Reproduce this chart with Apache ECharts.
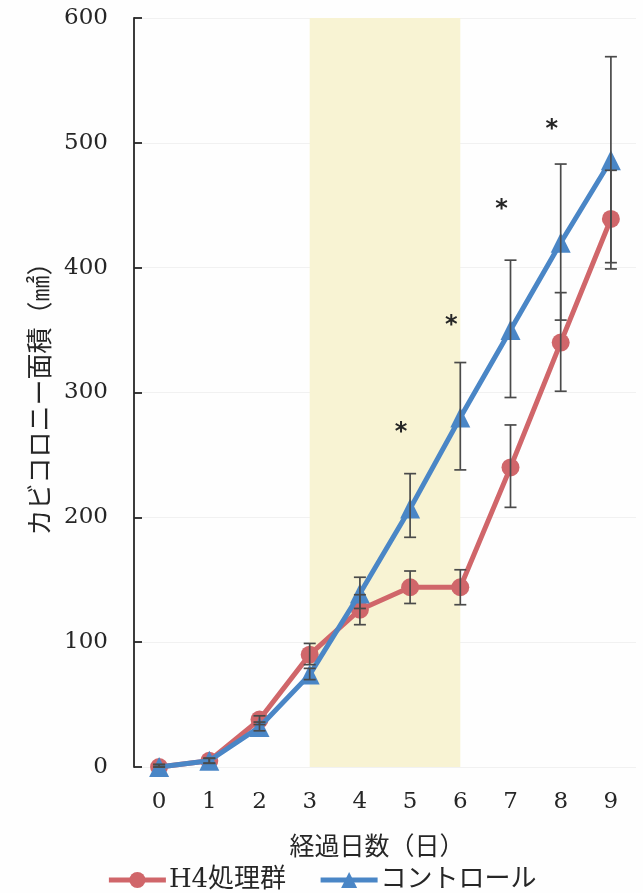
<!DOCTYPE html>
<html>
<head>
<meta charset="utf-8">
<script src="https://cdn.jsdelivr.net/npm/echarts@6/dist/echarts.min.js"></script>
<style>
  html, body { margin: 0; padding: 0; background: #fefefe; }
  #chart { width: 643px; height: 893px; }
</style>
</head>
<body>
<div id="chart"></div>
<script>
// 経過日数
const days = ['0', '1', '2', '3', '4', '5', '6', '7', '8', '9'];
// カビコロニー面積（㎟）平均値
const h4Values = [0, 5, 38, 90, 126, 144, 144, 240, 340, 439];
const controlValues = [0, 5, 32, 74, 139, 207, 280, 350, 420, 486];
// 誤差範囲 [下限, 上限]
const h4Err = [[0, 2], [3, 7], [34, 41], [82, 99], [114, 138], [131, 157], [130, 158], [208, 274], [301, 380], [399, 478]];
const controlErr = [[0, 2], [3, 7], [29, 36], [70, 79], [127, 152], [184, 235], [238, 324], [296, 406], [358, 483], [404, 569]];
// 有意差マーク（*）の位置
const starDays = [5, 6, 7, 8];
const starLevels = [270, 356, 449, 513];
// H4処理期間
const treatStart = '3';
const treatEnd = '6';
const yTicks = { min: 0, max: 600, interval: 100 };

const RED = '#d0666a';
const BLUE = '#4a86c6';
const INK = '#262626';
const serif = '"DejaVu Serif", "Noto Sans CJK JP", serif';
const jp = '"Noto Sans CJK JP", sans-serif';

function errSeries(name, errs, z) {
  return {
    type: 'custom',
    name: name + '_err',
    z: z,
    silent: true,
    data: errs.map((e, i) => [i, e[0], e[1]]),
    renderItem: function (params, api) {
      const i = api.value(0);
      const lo = api.coord([i, api.value(1)]);
      const hi = api.coord([i, api.value(2)]);
      const w = 6;
      const style = { stroke: '#4a4a4a', lineWidth: 1.7 };
      return {
        type: 'group',
        children: [
          { type: 'line', shape: { x1: lo[0], y1: lo[1], x2: hi[0], y2: hi[1] }, style: style },
          { type: 'line', shape: { x1: lo[0] - w, y1: lo[1], x2: lo[0] + w, y2: lo[1] }, style: style },
          { type: 'line', shape: { x1: hi[0] - w, y1: hi[1], x2: hi[0] + w, y2: hi[1] }, style: style }
        ]
      };
    }
  };
}

const chart = echarts.init(document.getElementById('chart'), null, { renderer: 'canvas' });
chart.setOption({
  backgroundColor: '#fefefe',
  animation: false,
  grid: { left: 134, right: 7, top: 18, bottom: 126, containLabel: false },
  legend: {
    data: ['H4処理群', 'コントロール'],
    top: 862,
    left: 'center',
    itemWidth: 57,
    itemHeight: 20,
    itemGap: 32,
    lineStyle: { width: 5 },
    textStyle: { fontFamily: serif, fontSize: 26, color: INK, padding: [0, 0, 0, -2] }
  },
  xAxis: {
    type: 'category',
    data: days,
    boundaryGap: true,
    axisLine: { show: false },
    axisTick: { show: false },
    axisLabel: { fontFamily: serif, fontSize: 23, color: INK, margin: 24 },
    name: '経過日数（日）',
    nameLocation: 'middle',
    nameGap: 66,
    nameTextStyle: { fontFamily: jp, fontSize: 25, color: INK, padding: [0, 16, 0, 0] }
  },
  yAxis: {
    type: 'value',
    min: yTicks.min,
    max: yTicks.max,
    interval: yTicks.interval,
    axisLine: { show: true, lineStyle: { color: INK, width: 1.8 } },
    axisTick: { show: true, inside: true, length: 8, lineStyle: { color: INK, width: 1.8 } },
    axisLabel: { fontFamily: serif, fontSize: 23, color: INK, margin: 26 },
    splitLine: { show: true, lineStyle: { color: 'rgba(0,0,0,0.05)', width: 1 } },
    name: 'カビコロニー面積（㎟）',
    nameLocation: 'middle',
    nameGap: 82,
    nameTextStyle: { fontFamily: jp, fontSize: 26, color: INK }
  },
  series: [
    {
      type: 'line',
      name: 'H4処理群',
      data: h4Values,
      z: 3,
      color: RED,
      lineStyle: { color: RED, width: 5 },
      itemStyle: { color: RED },
      symbol: 'circle',
      symbolSize: 18,
      markArea: {
        silent: true,
        itemStyle: { color: '#f8f3d3' },
        data: [[{ xAxis: treatStart }, { xAxis: treatEnd }]]
      }
    },
    {
      type: 'line',
      name: 'コントロール',
      data: controlValues,
      z: 4,
      color: BLUE,
      lineStyle: { color: BLUE, width: 5 },
      itemStyle: { color: BLUE },
      symbol: 'triangle',
      symbolSize: 20
    },
    errSeries('H4処理群', h4Err, 6),
    errSeries('コントロール', controlErr, 6),
    {
      type: 'custom',
      name: 'sig',
      z: 7,
      silent: true,
      data: starDays.map((d, i) => [d, starLevels[i]]),
      renderItem: function (params, api) {
        const p = api.coord([api.value(0), api.value(1)]);
        return {
          type: 'text',
          x: p[0] - 9,
          y: p[1] + 3,
          style: { text: '*', fill: INK, font: 'bold 24px "DejaVu Sans"', align: 'center', verticalAlign: 'middle' }
        };
      }
    }
  ]
});
</script>
</body>
</html>
